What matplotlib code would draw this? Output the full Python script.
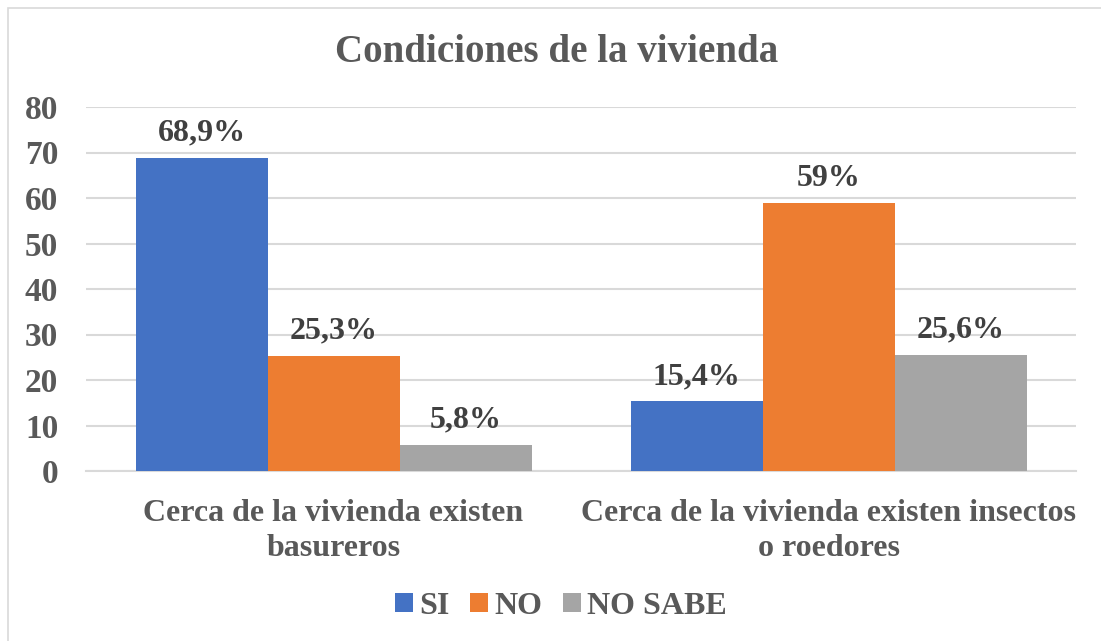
import matplotlib
matplotlib.use("Agg")
import matplotlib.pyplot as plt
import numpy as np
from matplotlib.patches import Rectangle

categories = ["Cerca de la vivienda existen\nbasureros",
              "Cerca de la vivienda existen insectos\no roedores"]
series_names = ["SI", "NO", "NO SABE"]
si = [68.9, 15.4]
no = [25.3, 59.0]
no_sabe = [5.8, 25.6]
labels_si = ["68,9%", "15,4%"]
labels_no = ["25,3%", "59%"]
labels_ns = ["5,8%", "25,6%"]
yticks = [0, 10, 20, 30, 40, 50, 60, 70, 80]

colors = ["#4472C4", "#ED7D31", "#A5A5A5"]
txt = "#595959"
plt.rcParams['font.family'] = ['Liberation Serif', 'DejaVu Serif']
plt.rcParams['font.weight'] = 'bold'

fig = plt.figure(figsize=(11.01, 6.41), dpi=100)
fig.patches.append(Rectangle((8/1101, -0.1), 1.2, 1 - 8/641 + 0.1, transform=fig.transFigure,
                             fill=False, edgecolor="#D9D9D9", linewidth=1.2))
ax = fig.add_axes([86/1101, 1 - 471/641, (1076-86)/1101, (471-107)/641])

x = np.arange(len(categories))
w = 0.8 / 3
allvals = [si, no, no_sabe]
alllabels = [labels_si, labels_no, labels_ns]
for i, (vals, labs) in enumerate(zip(allvals, alllabels)):
    bars = ax.bar(x + (i - 1) * w, vals, width=w, color=colors[i], label=series_names[i], zorder=3)
    for b, lab in zip(bars, labs):
        ax.text(b.get_x() + b.get_width() / 2, b.get_height() + 2.2, lab, ha="center", va="bottom",
                fontsize=23, fontweight="bold", color="#404040")

ax.set_xlim(-0.5, 1.5)
ax.set_ylim(0, 80)
ax.set_yticks(yticks)
ax.set_yticklabels([str(t) for t in yticks], fontsize=24, fontweight="bold", color=txt)
ax.set_xticks(x)
ax.set_xticklabels(categories, fontsize=23, fontweight="bold", color=txt, linespacing=1.3)
ax.tick_params(axis="both", length=0)
ax.tick_params(axis="x", pad=20)
ax.tick_params(axis="y", pad=20)
ax.yaxis.grid(True, color="#D9D9D9", linewidth=1.5, zorder=0)
for s in ["top", "right", "left"]:
    ax.spines[s].set_visible(False)
ax.spines["bottom"].set_color("#D9D9D9")
ax.spines["bottom"].set_linewidth(1.5)

fig.text(557/1101, 1 - 52/641, "Condiciones de la vivienda", ha="center", va="center",
         fontsize=28, fontweight="bold", color=txt)

leg = fig.legend(loc="center", bbox_to_anchor=(561/1101, 1 - 606/641), ncol=3, frameon=False,
                 fontsize=23, handlelength=0.55, handleheight=0.55, handletextpad=0.2, columnspacing=0.65)
for t in leg.get_texts():
    t.set_color(txt)
    t.set_fontweight("bold")

fig.savefig("out.png", dpi=100)
